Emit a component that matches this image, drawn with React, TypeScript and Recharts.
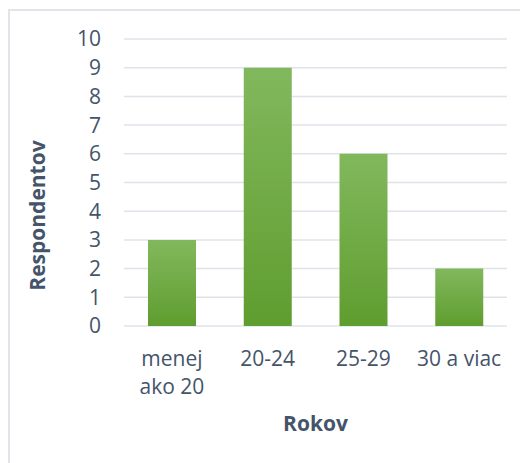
import { BarChart, Bar, XAxis, YAxis, CartesianGrid, Label } from 'recharts';

const categories = ['menej ako 20', '20-24', '25-29', '30 a viac'];
const respondents = [3, 9, 6, 2];
const yTicks = [0, 1, 2, 3, 4, 5, 6, 7, 8, 9, 10];

const data = categories.map((name, i) => ({ name, value: respondents[i] }));

const TEXT = '#44546a';
const FONT = '"Open Sans", "Noto Sans", sans-serif';

function AgeTick(props: any) {
  const { x, y, payload } = props;
  const lines: string[] = payload.value === 'menej ako 20' ? ['menej', 'ako 20'] : [payload.value];
  return (
    <text x={x} y={y} textAnchor="middle" fill={TEXT} fontSize={21} fontFamily={FONT}>
      {lines.map((line, i) => (
        <tspan key={i} x={x} dy={i === 0 ? 40 : 28}>
          {line}
        </tspan>
      ))}
    </text>
  );
}

function YTitle(props: any) {
  const vb = props.viewBox || { x: 0, y: 28, width: 114, height: 287 };
  const cx = vb.x + 27;
  const cy = vb.y + vb.height / 2 + 33;
  return (
    <text
      x={cx}
      y={cy}
      transform={`rotate(-90 ${cx} ${cy})`}
      textAnchor="middle"
      dominantBaseline="central"
      fill={TEXT}
      fontSize={21}
      fontWeight="bold"
      fontFamily={FONT}
    >
      Respondentov
    </text>
  );
}

export default function App() {
  return (
    <div
      style={{
        position: 'relative',
        top: 1,
        width: 540,
        height: 470,
        borderTop: '2px solid #e1e5ea',
        borderLeft: '2px solid #e1e5ea',
        background: '#fff',
      }}
    >
      <BarChart width={516} height={450} data={data} margin={{ top: 28, right: 19, bottom: 0, left: 0 }}>
        <defs>
          <linearGradient id="barGreen" x1="0" y1="0" x2="0" y2="1">
            <stop offset="0%" stopColor="#82b85d" />
            <stop offset="100%" stopColor="#5f9d2f" />
          </linearGradient>
        </defs>
        <CartesianGrid vertical={false} stroke="#dfe3e9" strokeWidth={1.5} />
        <XAxis
          dataKey="name"
          height={135}
          axisLine={false}
          tickLine={false}
          tickSize={0}
          tickMargin={0}
          interval={0}
          tick={<AgeTick />}
        >
          <Label
            value="Rokov"
            position="insideTop"
            offset={90}
            fill={TEXT}
            fontSize={21}
            fontWeight="bold"
            fontFamily={FONT}
          />
        </XAxis>
        <YAxis
          width={114}
          domain={[0, 10]}
          ticks={yTicks}
          interval={0}
          axisLine={false}
          tickLine={false}
          tickSize={0}
          tickMargin={23}
          tick={{ fill: TEXT, fontSize: 21, fontFamily: FONT }}
        >
          <Label content={<YTitle />} />
        </YAxis>
        <Bar dataKey="value" fill="url(#barGreen)" barSize={48} isAnimationActive={false} />
      </BarChart>
    </div>
  );
}
